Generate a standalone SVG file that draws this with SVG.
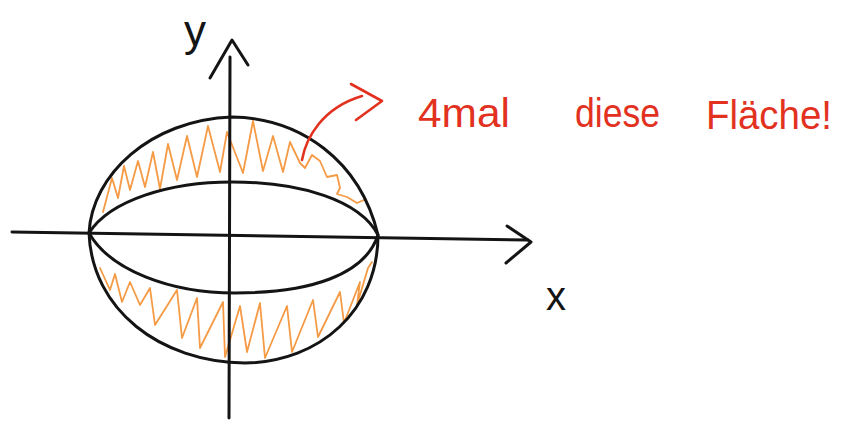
<svg xmlns="http://www.w3.org/2000/svg" width="846" height="428" viewBox="0 0 846 428">
<style>
.ink{fill:none;stroke:#141414;stroke-width:3;stroke-linecap:round;stroke-linejoin:round}
.hatch{fill:none;stroke:#f59a45;stroke-width:1.8;stroke-linecap:round;stroke-linejoin:round}
.red{fill:none;stroke:#e2321f;stroke-width:2.6;stroke-linecap:round;stroke-linejoin:round}
.lbl{font-family:"Liberation Sans",Arial,sans-serif;fill:#141414}
.note{font-family:"Liberation Sans",Arial,sans-serif;fill:#e2321f;font-size:41px}
</style>
<rect width="846" height="428" fill="#ffffff"/>
<g id="hatching">
<polyline class="hatch" points="103,212 112,178 118,198 124,166 130,190 138,161 145,187 153,152 160,189 168,144 177,180 187,136 197,177 208,126 220,172 227,132 243,173 253,121 263,171 273,136 283,172 290,142 300,163 305,168 312,155 320,161 327,177 337,175 340,188 337,194 347,197 357,203 364,200"/>
<polyline class="hatch" points="100,268 110,290 115,274 122,302 130,282 140,305 150,288 155,325 177,290 182,338 197,298 200,348 223,302 225,357 240,306 247,352 260,303 265,358 287,306 292,352 313,300 318,337 340,292 344,323 360,282 357,305 368,268 372,262"/>
</g>
<g id="outer-curve">
<path class="ink" d="M89,233 C92,175 150,120 232,117 C300,118 360,160 378,235 C378,310 320,362 245,363 C160,362 92,310 89,233 Z"/>
</g>
<g id="inner-curve">
<path class="ink" d="M89,233 C110,200 170,182 232,182 C300,182 360,200 378,235 C365,275 310,293 235,293 C170,293 110,270 89,233 Z"/>
</g>
<g id="x-axis">
<path class="ink" d="M12,232 L528,240"/>
<path class="ink" d="M507,226 L531,242 L506,263"/>
</g>
<g id="y-axis">
<path class="ink" d="M230,57 L229,418"/>
<path class="ink" d="M210,78 L232,40 L248,65"/>
</g>
<g id="label-y"><text class="lbl" x="184" y="46" font-size="44">y</text></g>
<g id="label-x"><text class="lbl" x="546" y="310" font-size="40">x</text></g>
<g id="connectors">
<path class="red" d="M302,160 C306,138 322,108 362,96"/>
<path class="red" d="M351,84 L382,101 L356,120"/>
</g>
<g id="annotation">
<text class="note" x="418" y="127" textLength="92" lengthAdjust="spacingAndGlyphs">4mal</text>
<text class="note" x="575" y="127" textLength="85" lengthAdjust="spacingAndGlyphs">diese</text>
<text class="note" x="706" y="129" textLength="126" lengthAdjust="spacingAndGlyphs">Fläche!</text>
</g>
</svg>
